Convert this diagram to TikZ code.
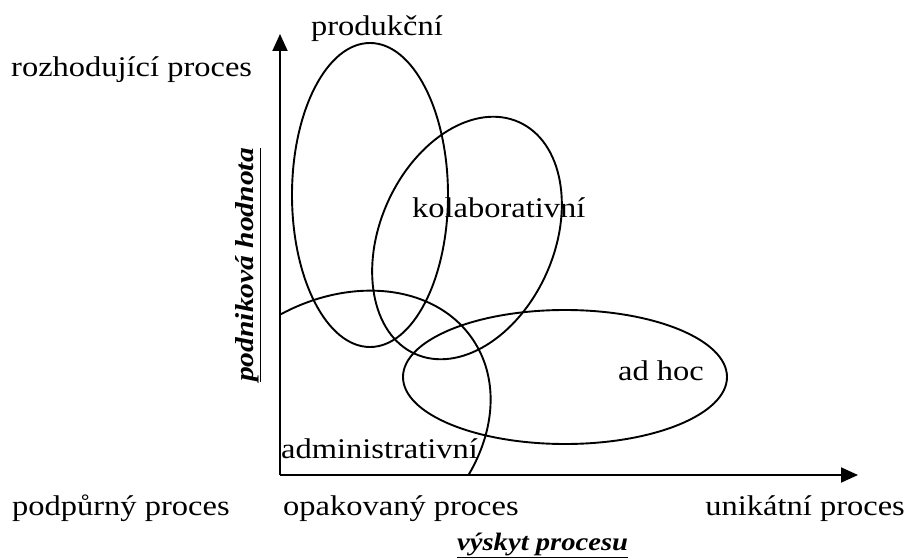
\documentclass[tikz,border=0pt]{standalone}
\usepackage{fontspec}
\setmainfont{Liberation Serif}[FakeStretch=1.14]
\usetikzlibrary{arrows.meta}
\tikzset{
  lbl/.style={inner sep=0pt, font=\fontsize{28.5}{32}\selectfont},
  axlbl/.style={inner sep=0pt, font=\fontsize{25.1}{30}\selectfont\bfseries\itshape},
  vaxlbl/.style={inner sep=0pt, font=\fontsize{25.9}{30}\selectfont\bfseries\itshape},
  axisline/.style={line width=1.9pt, -{Triangle[length=17pt,width=15pt]}},
  outline/.style={line width=1.9pt}
}
\begin{document}
\begin{tikzpicture}[x=1pt,y=-1pt]
\useasboundingbox (0,0) rectangle (908,559);
% axes
\coordinate (O) at (280,475);
\coordinate (ytip) at (280,34);
\coordinate (xtip) at (858,475);
% ellipses
\draw[outline] (370,195) ellipse [x radius=78, y radius=152];
\draw[outline, rotate around={65.9:(467,238)}] (467,238) ellipse [x radius=127, y radius=87];
\draw[outline] (565,377) ellipse [x radius=162, y radius=67];
\begin{scope}
  \clip (O) rectangle (620,250);
  \draw[outline, rotate around={33.6:(335,432)}] (335,432) ellipse [x radius=166, y radius=129];
\end{scope}
\draw[axisline] (O) -- (ytip);
\draw[axisline] (O) -- (xtip);
% labels
\node[lbl, anchor=base] (prod) at (377,36) {produkční};
\node[lbl, anchor=base west] (rozh) at (11,76.5) {rozhodující proces};
\node[lbl, anchor=base west] (kol) at (412,218) {kolaborativní};
\node[lbl, anchor=base west] (adhoc) at (618,380) {ad hoc};
\node[lbl, anchor=base west] (admin) at (281,458) {administrativní};
\node[lbl, anchor=base west] (podp) at (12,515) {podpůrný proces};
\node[lbl, anchor=base west] (opak) at (283,515) {opakovaný proces};
\node[lbl, anchor=base east] (unik) at (905,515) {unikátní proces};
\node[axlbl, anchor=base west] (vysk) at (457,550) {\underline{výskyt procesu}};
\node[vaxlbl, anchor=base, rotate=90] (podn) at (253,265) {\underline{podniková hodnota}};
\end{tikzpicture}
\end{document}
